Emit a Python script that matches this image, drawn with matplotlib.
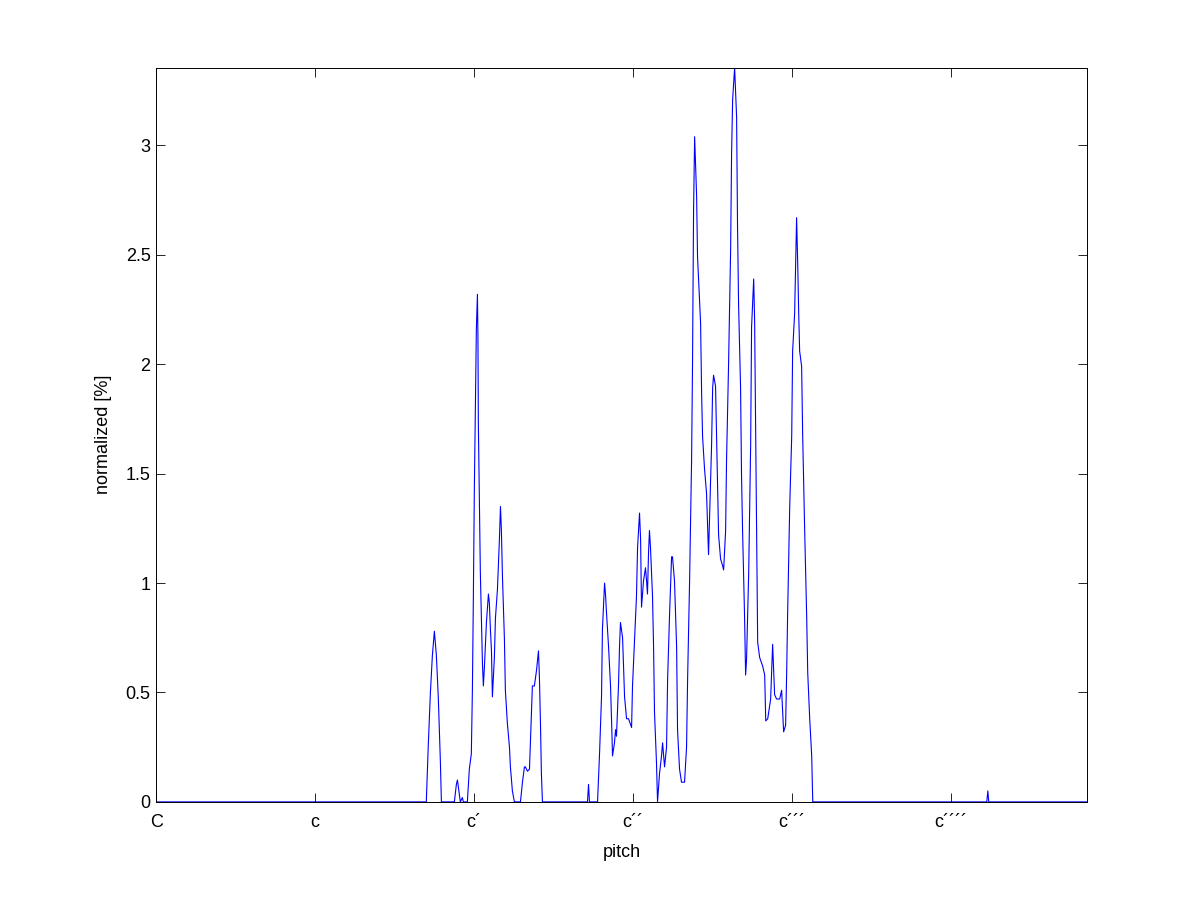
import numpy as np
import matplotlib
matplotlib.use('Agg')
import matplotlib.pyplot as plt

# pitch in semitones above C, normalized distribution in %
pitch = [0.0, 20.40, 20.55, 20.71, 20.86, 21.01, 21.16, 21.31, 21.46, 21.54,
         22.52, 22.67, 22.75, 22.90, 22.97, 23.12, 23.20, 23.50, 23.65, 23.80,
         23.88, 23.95, 24.03, 24.11, 24.18, 24.26, 24.30, 24.33, 24.41, 24.48,
         24.56, 24.64, 24.71, 24.79, 24.94, 25.09, 25.16, 25.24, 25.32, 25.39,
         25.54, 25.62, 25.77, 25.92, 26.00, 26.07, 26.15, 26.30, 26.37, 26.52,
         26.68, 26.75, 26.90, 27.05, 27.51, 27.66, 27.81, 27.88, 28.04, 28.19,
         28.26, 28.41, 28.56, 28.72, 28.87, 28.94, 29.02, 29.09, 29.17,
         32.57, 32.65, 32.72, 33.33, 33.48, 33.63, 33.70, 33.86, 33.93, 34.01,
         34.16, 34.31, 34.39, 34.46, 34.61, 34.69, 34.76, 34.91, 34.99, 35.06,
         35.22, 35.29, 35.37, 35.52, 35.67, 35.90, 35.97, 36.12, 36.27, 36.35,
         36.50, 36.58, 36.65, 36.80, 36.95, 37.03, 37.10, 37.18, 37.25, 37.33,
         37.48, 37.56, 37.63, 37.78, 37.86, 38.01, 38.16, 38.24, 38.39, 38.54,
         38.62, 38.77, 38.92, 38.99, 39.14, 39.30, 39.37, 39.52, 39.67, 39.90,
         40.05, 40.13, 40.28, 40.43, 40.50, 40.58, 40.66, 40.81, 40.88, 41.11,
         41.19, 41.26, 41.41, 41.56, 41.64, 41.71, 41.86, 41.94, 42.02, 42.09,
         42.24, 42.32, 42.39, 42.47, 42.62, 42.77, 42.85, 43.00, 43.07, 43.22,
         43.38, 43.45, 43.53, 43.68, 43.83, 43.90, 43.98, 44.13, 44.20, 44.28,
         44.43, 44.51, 44.58, 44.74, 44.89, 44.96, 45.04, 45.12, 45.19, 45.27,
         45.34, 45.42, 45.57, 45.80, 45.95, 46.03, 46.18, 46.40, 46.55, 46.70,
         46.85, 47.08, 47.23, 47.38, 47.53, 47.61, 47.68, 47.84, 47.99, 48.06,
         48.21, 48.36, 48.44, 48.52, 48.59, 48.74, 48.82, 48.97, 49.12, 49.20,
         49.35, 49.50, 49.58, 62.72, 62.80, 62.87, 70.28]
values = [0.0, 0.0, 0.26, 0.50, 0.67, 0.78, 0.67, 0.47, 0.19, 0.0,
          0.0, 0.08, 0.10, 0.03, 0.0, 0.02, 0.0, 0.0, 0.15, 0.22,
          0.51, 0.92, 1.44, 1.84, 2.16, 2.32, 2.12, 1.73, 1.36, 1.05,
          0.84, 0.63, 0.53, 0.62, 0.82, 0.95, 0.91, 0.79, 0.69, 0.48,
          0.66, 0.84, 0.97, 1.20, 1.35, 1.24, 1.03, 0.74, 0.51, 0.36,
          0.25, 0.16, 0.05, 0.0, 0.0, 0.09, 0.16, 0.16, 0.14, 0.15,
          0.27, 0.53, 0.53, 0.60, 0.69, 0.57, 0.36, 0.13, 0.0,
          0.0, 0.08, 0.0, 0.0, 0.22, 0.48, 0.79, 1.00, 0.95, 0.86,
          0.71, 0.53, 0.37, 0.21, 0.27, 0.33, 0.30, 0.53, 0.71, 0.82,
          0.75, 0.62, 0.48, 0.38, 0.38, 0.34, 0.53, 0.74, 0.94, 1.16,
          1.32, 1.20, 0.89, 1.01, 1.07, 1.01, 0.95, 1.14, 1.24, 1.16,
          0.94, 0.71, 0.41, 0.18, 0.0, 0.13, 0.21, 0.27, 0.16, 0.25,
          0.56, 0.86, 1.12, 1.12, 1.01, 0.71, 0.33, 0.15, 0.09, 0.09,
          0.25, 0.56, 1.01, 1.56, 1.99, 2.70, 3.04, 2.77, 2.49, 2.19,
          1.86, 1.67, 1.52, 1.41, 1.26, 1.13, 1.46, 1.63, 1.89, 1.95,
          1.90, 1.67, 1.46, 1.22, 1.11, 1.08, 1.06, 1.24, 1.56, 1.99,
          2.53, 2.96, 3.21, 3.356, 3.13, 2.63, 2.27, 1.89, 1.50, 1.24,
          0.85, 0.58, 0.65, 1.04, 1.63, 2.17, 2.28, 2.39, 2.20, 1.68,
          1.24, 0.73, 0.66, 0.62, 0.58, 0.37, 0.38, 0.47, 0.72, 0.49,
          0.47, 0.47, 0.51, 0.32, 0.35, 0.59, 0.85, 1.35, 1.67, 2.06,
          2.23, 2.67, 2.47, 2.23, 2.06, 1.99, 1.67, 1.24, 0.85, 0.59,
          0.38, 0.21, 0.0, 0.0, 0.05, 0.0, 0.0]

tick_pos = [0, 12, 24, 36, 48, 60]
tick_names = ['C', 'c', 'c\u00b4', 'c\u00b4\u00b4', 'c\u00b4\u00b4\u00b4', 'c\u00b4\u00b4\u00b4\u00b4']
yticks = [0, 0.5, 1, 1.5, 2, 2.5, 3]

plt.rcParams['font.family'] = ['Liberation Sans', 'DejaVu Sans']

fig = plt.figure(figsize=(12.01, 9.01), dpi=100)
ax = fig.add_axes([0.13, 0.11, 0.775, 0.815])
ax.plot(pitch, values, color=(0, 0, 1), linewidth=0.8)

ax.set_xlim(0, 70.28)
ax.set_ylim(0, 3.356)
ax.set_xticks(tick_pos)
ax.set_xticklabels(tick_names)
ax.set_yticks(yticks)
ax.set_yticklabels(['0', '0.5', '1', '1.5', '2', '2.5', '3'])
ax.tick_params(direction='in', length=6.5, width=0.6, top=True, right=True,
               labelsize=13, colors='black')
ax.tick_params(axis='x', pad=9)
ax.tick_params(axis='y', pad=4)
for s in ax.spines.values():
    s.set_linewidth(0.7)
    s.set_zorder(3)

ax.set_xlabel('pitch', fontsize=13, labelpad=9)
ax.set_ylabel('normalized [%]', fontsize=13, labelpad=10)

fig.savefig('out.png', dpi=100)
